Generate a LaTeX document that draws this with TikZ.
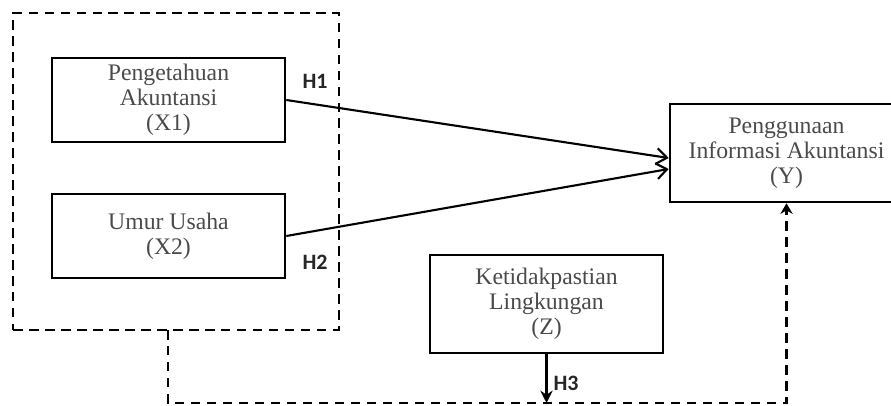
\documentclass[tikz,border=0pt]{standalone}
\usepackage{fontspec}
\setmainfont{Liberation Serif}
\newfontfamily\hfont{Carlito}
\usepackage{xcolor}
\usepackage{tikz}
\usetikzlibrary{positioning, arrows.meta}
\definecolor{txtgray}{HTML}{4A4A4A}

\begin{document}
\begin{tikzpicture}[x=0.02cm,y=-0.02cm]
						\tikzstyle{var}=[rectangle,draw=black,line width=1.5pt,minimum width=4.66cm,align=center,text=txtgray,font=\fontsize{13.5}{14.2}\selectfont]
						\tikzstyle{hyp}=[font=\hfont\bfseries\fontsize{12.5}{14}\selectfont,text=black!85]
						\tikzstyle{dashline}=[line width=1.6pt,dash pattern=on 0.19cm off 0.13cm]
						\useasboundingbox (0,0) rectangle (891,405);
						\node[draw,dashline,minimum width=6.52cm,minimum height=6.34cm](grp) at (176,171.5) {};
						\node[var,minimum height=1.68cm](x1) at (168.5,100) {Pengetahuan\\Akuntansi\\(X1)};
						\node[var,minimum height=1.68cm](x2) at (168.5,236) {Umur Usaha\\(X2)};
						\node[var,minimum height=1.96cm](y) at (786.5,153) {Penggunaan\\Informasi Akuntansi\\(Y)};
						\node[var,minimum height=1.96cm](z) at (546.5,304) {Ketidakpastian\\Lingkungan\\(Z)};
						\node[hyp](h1) at (315,81) {H1};
						\node[hyp](h2) at (315,262) {H2};
						\node[hyp](h3) at (566,383) {H3};
						\coordinate (gb) at (168,330);
						\coordinate (gc) at (168,403);
						\coordinate (zb) at (546.5,403);
						\draw[line width=1.2pt,-{Straight Barb[length=6pt,width=9pt]}](x1.east) -- ([yshift=-0.1cm]y.west);
						\draw[line width=1.2pt,-{Straight Barb[length=6pt,width=9pt]}](x2.east) -- ([yshift=-0.32cm]y.west);
						\draw[dashline,-{Stealth[length=6pt,width=7pt]}](gb) -- (gc) -| (y.south);
						\draw[line width=1.4pt,-{Stealth[length=7pt,width=7pt]}](z.south) -- (zb);
					\end{tikzpicture}
\end{document}
